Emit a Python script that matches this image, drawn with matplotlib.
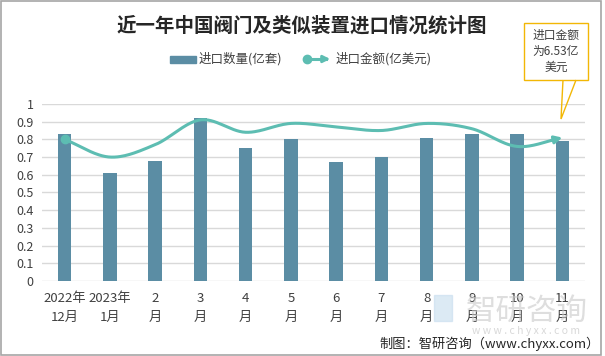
import numpy as np
import matplotlib
matplotlib.use("Agg")
import matplotlib.pyplot as plt
from matplotlib.patches import Rectangle, Polygon, FancyArrowPatch
from matplotlib.lines import Line2D

plt.rcParams['font.family'] = ['Noto Sans CJK SC', 'DejaVu Sans']

# data
months = ["2022年\n12月", "2023年\n1月", "2\n月", "3\n月", "4\n月", "5\n月",
          "6\n月", "7\n月", "8\n月", "9\n月", "10\n月", "11\n月"]
qty = [0.83, 0.61, 0.68, 0.92, 0.75, 0.80, 0.67, 0.70, 0.81, 0.83, 0.83, 0.79]
amount = [0.80, 0.70, 0.77, 0.91, 0.84, 0.89, 0.87, 0.85, 0.89, 0.86, 0.76, 0.81]
yticks = [0, 0.1, 0.2, 0.3, 0.4, 0.5, 0.6, 0.7, 0.8, 0.9, 1]

bar_color = '#5B8DA4'
line_color = '#5DBDB2'


def smooth(xs, ys, n=30):
    # catmull-rom curve through the points (like excel's smoothed line)
    xs = np.asarray(xs, float)
    ys = np.asarray(ys, float)
    px = np.concatenate([[2 * xs[0] - xs[1]], xs, [2 * xs[-1] - xs[-2]]])
    py = np.concatenate([[2 * ys[0] - ys[1]], ys, [2 * ys[-1] - ys[-2]]])
    ox, oy = [], []
    for i in range(1, len(px) - 2):
        t = np.linspace(0, 1, n, endpoint=False)
        for p, o in ((px, ox), (py, oy)):
            p0, p1, p2, p3 = p[i - 1], p[i], p[i + 1], p[i + 2]
            o.extend(0.5 * (2 * p1 + (-p0 + p2) * t + (2 * p0 - 5 * p1 + 4 * p2 - p3) * t ** 2
                            + (-p0 + 3 * p1 - 3 * p2 + p3) * t ** 3))
    ox.append(xs[-1])
    oy.append(ys[-1])
    return np.array(ox), np.array(oy)


fig = plt.figure(figsize=(6.05, 3.56), dpi=100)
ax = fig.add_axes([0.0694, 0.2107, 0.8976, 0.4973])

x = np.arange(len(months))
ax.bar(x, qty, width=0.3, color=bar_color, zorder=2)

sx, sy = smooth(x, amount)
ax.plot(sx[:-4], sy[:-4], color=line_color, lw=2.2, zorder=3, solid_capstyle='round')
ax.plot(x[0], amount[0], 'o', color=line_color, ms=6, zorder=4)
ax.annotate('', xy=(sx[-1], sy[-1]), xytext=(sx[-8], sy[-8]),
            arrowprops=dict(arrowstyle='-|>', color=line_color, lw=2.2,
                            mutation_scale=11, shrinkA=0, shrinkB=0), zorder=4)

ax.set_xlim(-0.5, len(months) - 0.5)
ax.set_ylim(0, 1)
ax.set_yticks(yticks)
ax.set_yticklabels([f"{v:g}" for v in yticks], fontsize=9, color='#404040')
ax.set_xticks(x)
ax.set_xticklabels(months, fontsize=9.5, color='#404040', linespacing=1.6)
ax.grid(axis='y', color='#D9D9D9', lw=1, zorder=0)
ax.tick_params(length=0, pad=6)
ax.tick_params(axis='x', pad=8)
for s in ax.spines.values():
    s.set_visible(False)

# title
fig.text(0.499, 0.928, "近一年中国阀门及类似装置进口情况统计图", ha='center', va='center',
         fontsize=14, fontweight='bold', color='#262626')

# legend drawn by hand
W, H = 605, 356
fig.patches.append(Rectangle((170 / W, 1 - 63 / H), 26 / W, 7 / H, transform=fig.transFigure,
                             color=bar_color))
fig.text(199 / W, 1 - 59 / H, "进口数量(亿套)", fontsize=9, va='center', color='#404040')
fig.lines.append(Line2D([307 / W, 326 / W], [1 - 59 / H, 1 - 59 / H], transform=fig.transFigure,
                        color=line_color, lw=2.2, marker=None))
fig.lines.append(Line2D([307 / W], [1 - 59 / H], transform=fig.transFigure,
                        color=line_color, marker='o', ms=6))
fig.patches.append(FancyArrowPatch((320 / W, 1 - 59 / H), (333 / W, 1 - 59 / H),
                                   transform=fig.transFigure, arrowstyle='-|>',
                                   mutation_scale=10, color=line_color, lw=2))
fig.text(336 / W, 1 - 59 / H, "进口金额(亿美元)", fontsize=9, va='center', color='#404040')

# callout
gold = '#F2B705'
fig.patches.append(Rectangle((524 / W, 1 - 80 / H), 64 / W, 57 / H, transform=fig.transFigure,
                             facecolor='white', edgecolor=gold, lw=1))
fig.patches.append(Polygon([(563 / W, 1 - 80 / H), (561 / W, 1 - 119 / H), (576 / W, 1 - 80 / H)],
                           closed=False, transform=fig.transFigure, fill=False,
                           edgecolor=gold, lw=1))
fig.text(556 / W, 1 - 51 / H, "进口金额\n为6.53亿\n美元", ha='center', va='center',
         fontsize=8.5, color='#404040', linespacing=1.3)

# watermark
fig.text(527 / W, 1 - 311 / H, "智研咨询", ha='center', va='center', fontsize=22,
         color='#C8C8C8', alpha=0.6)
fig.text(526 / W, 1 - 331 / H, "w w w . c h y x x . c o m", ha='center', va='center',
         fontsize=7.5, color='#C8C8C8', alpha=0.7)
fig.patches.append(Rectangle((434 / W, 1 - 321 / H), 18 / W, 26 / H, transform=fig.transFigure,
                             color='#C5DCEE', alpha=0.6))

fig.text(600 / W, 1 - 344 / H, "制图：智研咨询（www.chyxx.com）", ha='right', va='center',
         fontsize=9.5, color='#262626')

# outer frame
fig.patches.append(Rectangle((0.001, 0.002), 0.992, 0.996, transform=fig.transFigure,
                             fill=False, edgecolor='#A6A6A6', lw=1.2))

fig.savefig("out.png", dpi=100)
